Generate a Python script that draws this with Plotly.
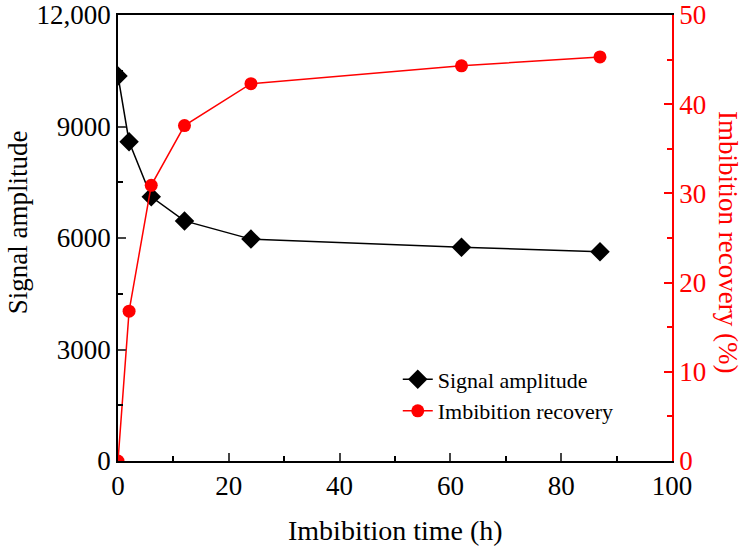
import plotly.graph_objects as go

time_h = [0, 2, 6, 12, 24, 62, 87]
signal_amplitude = [10360, 8590, 7110, 6460, 5970, 5750, 5630]
imbibition_recovery = [0, 16.8, 30.9, 37.6, 42.3, 44.3, 45.3]

left_tickvals = [0, 3000, 6000, 9000, 12000]
left_ticktext = ["0", "3000", "6000", "9000", "12,000"]
right_tickvals = [0, 10, 20, 30, 40, 50]
x_tickvals = [0, 20, 40, 60, 80, 100]

FONT = "Liberation Serif"

fig = go.Figure()
fig.add_trace(go.Scatter(
    x=time_h, y=signal_amplitude, name="Signal amplitude",
    mode="lines+markers",
    line=dict(color="black", width=1.5),
    marker=dict(symbol="diamond", size=15, color="black"),
    yaxis="y"))
fig.add_trace(go.Scatter(
    x=time_h, y=imbibition_recovery, name="Imbibition recovery",
    mode="lines+markers",
    line=dict(color="#ff0000", width=1.5),
    marker=dict(symbol="circle", size=13, color="#ff0000"),
    yaxis="y2"))

fig.update_layout(
    width=742, height=547,
    margin=dict(l=118, r=70, t=15, b=86),
    paper_bgcolor="white", plot_bgcolor="white",
    font=dict(family=FONT, size=27, color="black"),
    showlegend=True,
    legend=dict(x=0.505, y=0.23, xanchor="left", yanchor="top",
                bgcolor="rgba(0,0,0,0)", font=dict(size=22, family=FONT),
                tracegroupgap=0),
    xaxis=dict(range=[0, 100], tickvals=x_tickvals, ticks="inside", ticklen=8,
               tickwidth=1.5, linecolor="black", linewidth=1.5, showline=True,
               mirror=True, showgrid=False, zeroline=False, automargin=False,
               minor=dict(ticks="inside", ticklen=5, tickwidth=1.5, dtick=10,
                          tickcolor="black", showgrid=False),
               tickfont=dict(size=27)),
    yaxis=dict(range=[0, 12000], tickvals=left_tickvals, ticktext=left_ticktext,
               ticks="inside", ticklen=8, tickwidth=1.5, linecolor="black",
               linewidth=1.5, showline=True, showgrid=False, zeroline=False,
               automargin=False,
               minor=dict(ticks="inside", ticklen=5, tickwidth=1.5,
                          tickvals=[1500, 4500, 7500, 10500], tickcolor="black",
                          showgrid=False),
               tickfont=dict(size=27)),
    yaxis2=dict(range=[0, 50], tickvals=right_tickvals, overlaying="y", side="right",
                ticks="inside", ticklen=8, tickwidth=1.5, tickcolor="#ff0000",
                linecolor="#ff0000", linewidth=1.5, showline=True, showgrid=False,
                zeroline=False, automargin=False,
                minor=dict(ticks="inside", ticklen=5, tickwidth=1.5, dtick=5,
                           tickcolor="#ff0000", showgrid=False),
                tickfont=dict(size=27, color="#ff0000")),
    annotations=[
        dict(text="Imbibition time (h)", xref="paper", yref="paper",
             x=0.5, y=-0.155, xanchor="center", yanchor="middle",
             showarrow=False, font=dict(size=28, color="black", family=FONT)),
        dict(text="Signal amplitude", xref="paper", yref="paper",
             x=-0.18, y=0.536, xanchor="center", yanchor="middle",
             textangle=-90, showarrow=False,
             font=dict(size=27, color="black", family=FONT)),
        dict(text="Imbibition recovery (%)", xref="paper", yref="paper",
             x=1.1, y=0.49, xanchor="center", yanchor="middle",
             textangle=90, showarrow=False,
             font=dict(size=27, color="#ff0000", family=FONT)),
    ],
)

fig.write_html("out.html")
